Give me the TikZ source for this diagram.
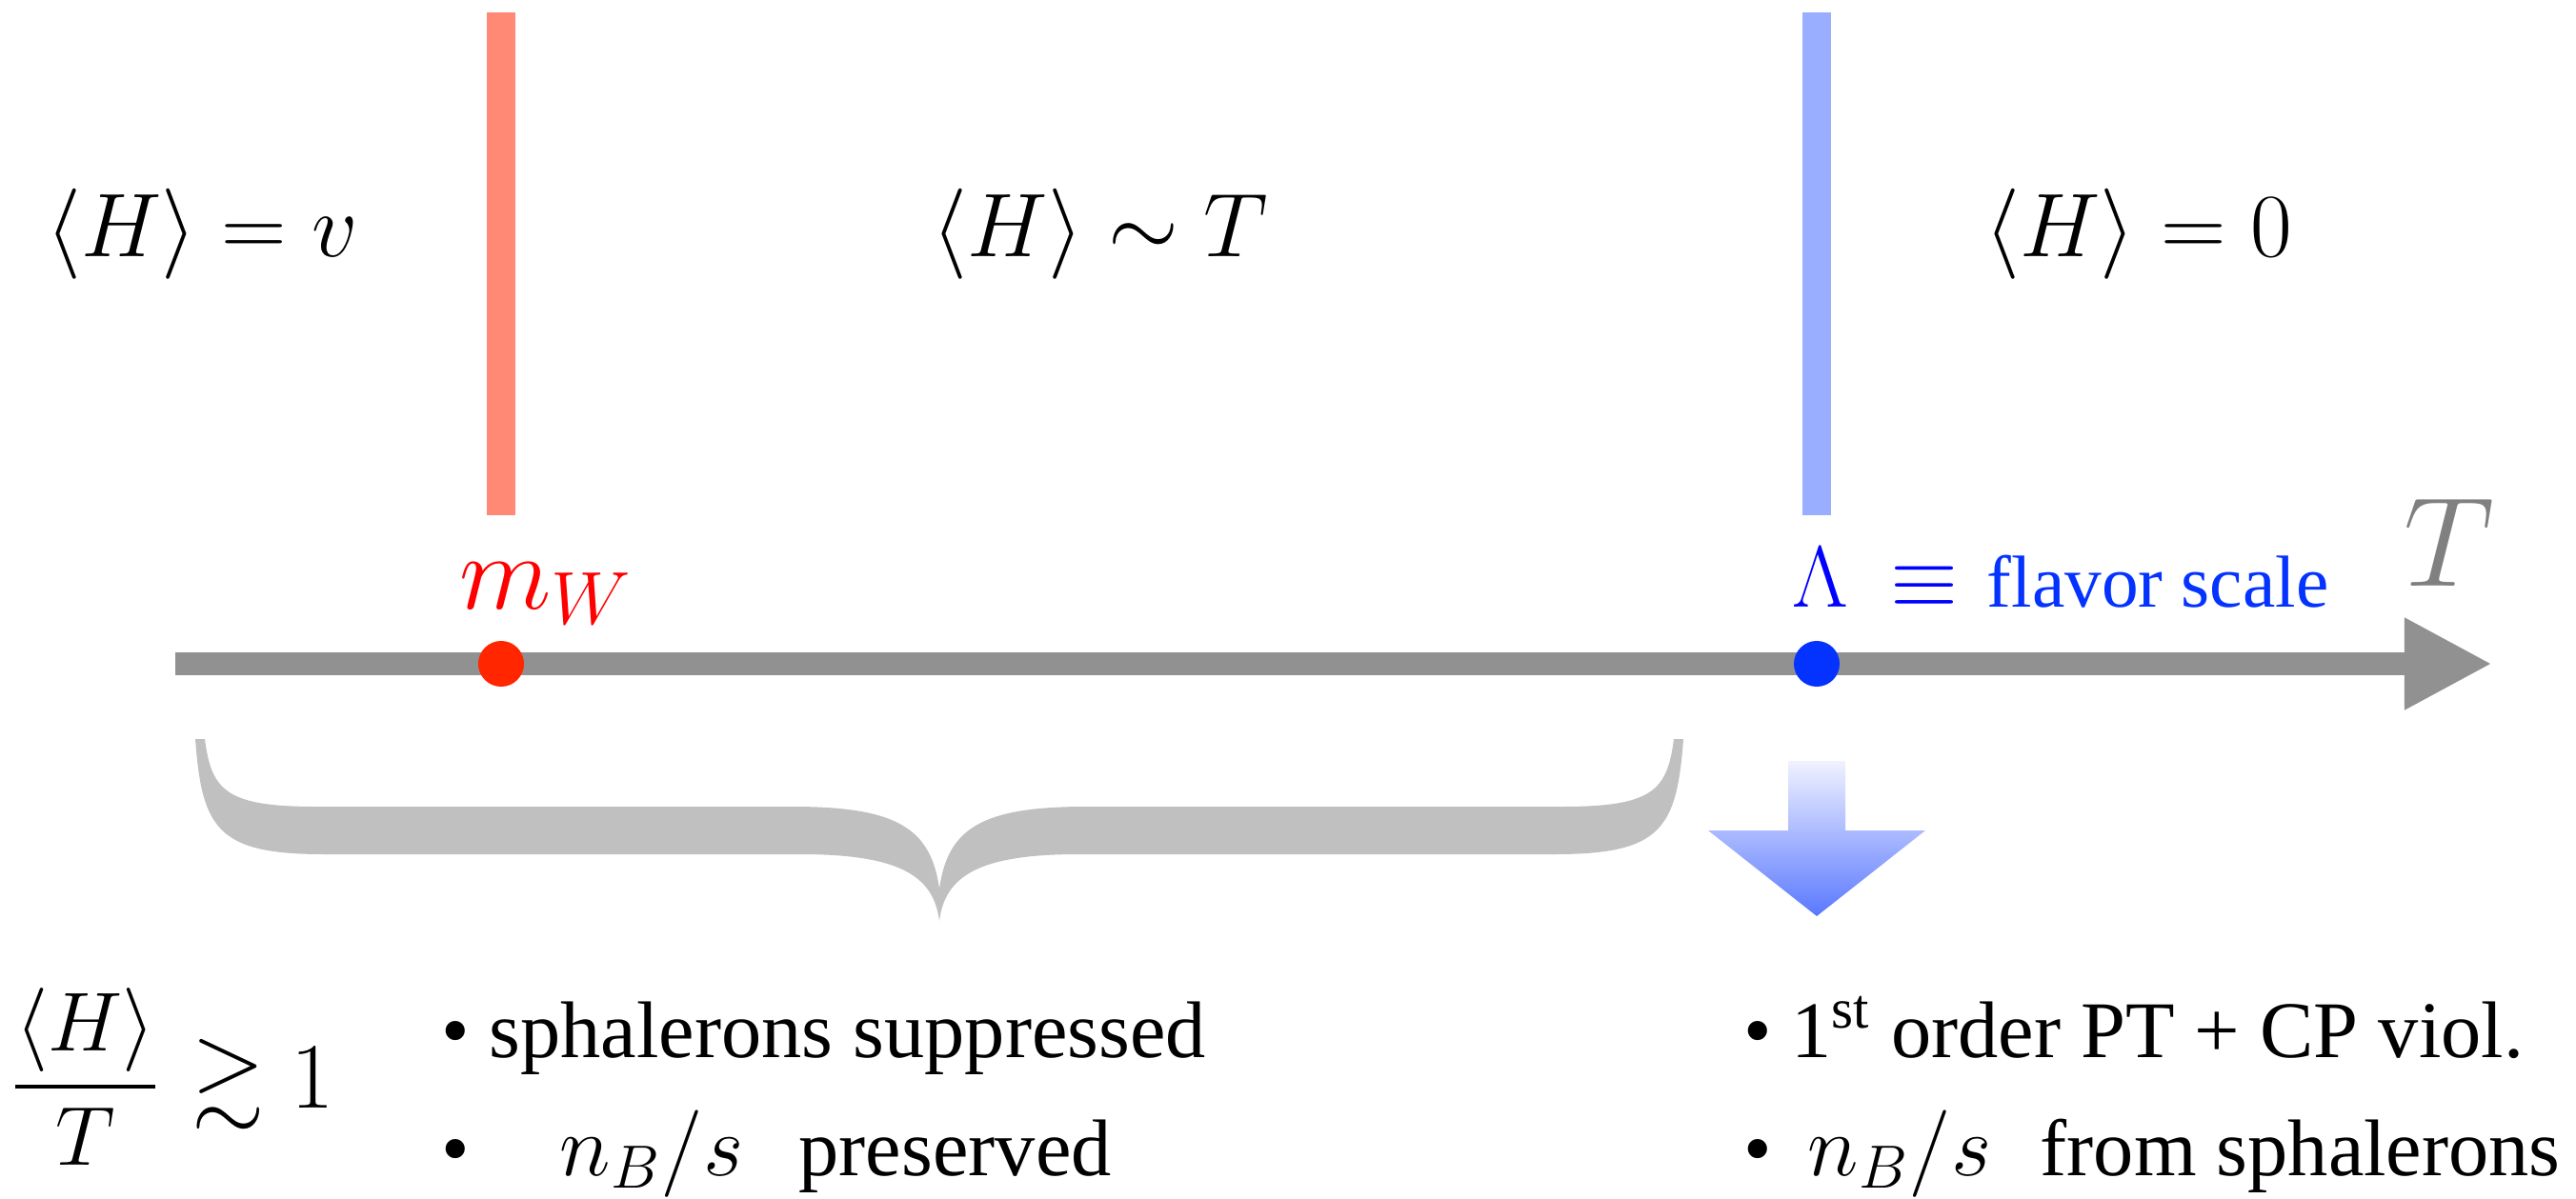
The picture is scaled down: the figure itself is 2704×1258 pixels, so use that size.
\RequirePackage{fix-cm}
\documentclass[tikz,border=0pt]{standalone}
\usepackage{amsmath}
\usepackage{amssymb}
\usepackage[no-math]{fontspec}
\setmainfont{Liberation Serif}
\usepackage{xcolor}
\usepackage{tikz}
\usetikzlibrary{positioning, arrows.meta}
\definecolor{BarRed}{RGB}{255,137,117}
\definecolor{BarBlue}{RGB}{153,174,255}
\definecolor{DotRed}{RGB}{255,38,0}
\definecolor{DotBlue}{RGB}{4,51,255}
\definecolor{AxisGray}{RGB}{145,145,145}
\definecolor{LabelGray}{RGB}{128,128,128}
\definecolor{BraceGray}{RGB}{192,192,192}
\definecolor{ArrowTop}{RGB}{240,242,255}
\definecolor{ArrowBottom}{RGB}{90,120,255}

\begin{document}
\begin{tikzpicture}[x=0.01cm, y=-0.01cm, every node/.style={inner sep=0pt, outer sep=0pt},
  bar/.style={line width=0.3cm},
  dot/.style={circle, minimum size=0.48cm},
  phase/.style={anchor=base, font=\fontsize{27}{32}\selectfont},
  item/.style={anchor=base west, font=\fontsize{24}{28}\selectfont},
  axis/.style={line width=0.24cm, AxisGray, -{Triangle[length=0.92cm, width=0.9cm]}}]

\useasboundingbox (0,0) rectangle (2704,1258);

% temperature axis
\coordinate (start) at (184,697);
\coordinate (tip) at (2616,697);
\draw[axis] (start) -- (tip);

% phase boundaries
\draw[bar, BarRed] (526,13) -- (526,541);
\draw[bar, BarBlue] (1907,13) -- (1907,541);

% the two scales
\node[dot, fill=DotRed] (mw) at (526,697) {};
\node[dot, fill=DotBlue] (lam) at (1907,697) {};

\node[anchor=base west, font=\fontsize{32}{36}\selectfont, red] (mwlabel) at (482,639) {$m_W$};
\node[anchor=base west, DotBlue] (lamlabel) at (1881,637) {{\fontsize{26}{30}\selectfont\color{blue}$\Lambda$\hspace{0.45cm}$\equiv$}\hspace{0.3cm}{\fontsize{22}{26}\selectfont flavor scale}};
\node[anchor=base west, font=\fontsize{38}{44}\selectfont, LabelGray] (axislabel) at (2523,615) {$T$};

% vev in each phase
\node[phase] (broken) at (212,270) {$\langle H\rangle = v$};
\node[phase] (middle) at (1155,270) {$\langle H\rangle \sim T$};
\node[phase] (sym) at (2245,270) {$\langle H\rangle = 0$};

% brace under the broken phase
\fill[BraceGray] (205,776) .. controls (212,870) and (228,897) .. (340,897)
  -- (840,897) .. controls (945,897) and (980,920) .. (986,967)
  .. controls (992,920) and (1027,897) .. (1132,897)
  -- (1632,897) .. controls (1744,897) and (1760,870) .. (1767,776)
  -- (1757,776) .. controls (1750,830) and (1735,847) .. (1640,847)
  -- (1140,847) .. controls (1030,847) and (995,870) .. (986,933)
  .. controls (977,870) and (942,847) .. (832,847)
  -- (332,847) .. controls (237,847) and (222,830) .. (215,776) -- cycle;

% arrow down from the flavor scale
\shade[top color=ArrowTop, bottom color=ArrowBottom] (1877,799) -- (1937,799) -- (1937,872)
  -- (2021,872) -- (1907,962) -- (1793,872) -- (1877,872) -- cycle;

% conditions
\node[anchor=base west, font=\fontsize{25}{30}\selectfont] (ratio) at (12,1163) {$\dfrac{\langle H\rangle}{T}$\hspace{0.35cm}{\fontsize{28}{32}\selectfont$\gtrsim 1$}};
\node[item] (sph1) at (463,1110) {\textbullet\ sphalerons suppressed};
\node[item] (sph2) at (463,1234) {\textbullet\hspace{0.95cm}{\fontsize{26}{30}\selectfont$n_B/s$}\hspace{0.58cm}preserved};
\node[item] (pt) at (1830,1110) {\textbullet\ 1\textsuperscript{st} order PT + CP viol.};
\node[item] (gen) at (1830,1234) {\textbullet\hspace{0.38cm}{\fontsize{26}{30}\selectfont$n_B/s$}\hspace{0.51cm}from sphalerons};
\end{tikzpicture}
\end{document}
